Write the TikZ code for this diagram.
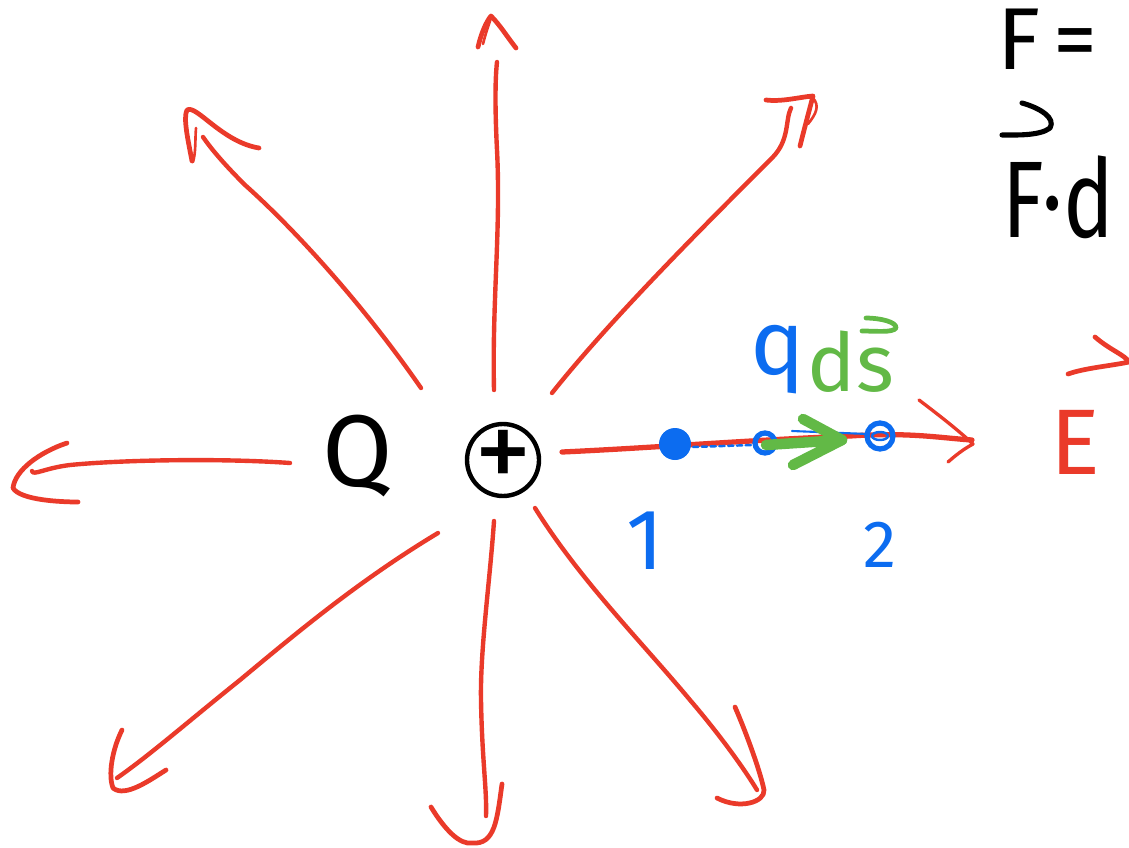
\documentclass[tikz,border=0pt]{standalone}
\usepackage{fontspec}
\usepackage{graphicx}
\setmainfont{Fira Sans}
\definecolor{penred}{RGB}{234,58,42}
\definecolor{penblue}{RGB}{12,108,240}
\definecolor{pengreen}{RGB}{98,185,70}
\begin{document}
\begin{tikzpicture}[x=0.02cm,y=-0.02cm,line cap=round,line join=round,
  field/.style={penred,line width=2.5pt},
  fieldhead/.style={penred,line width=2.7pt},
  hand/.style={inner sep=0pt,outer sep=0pt},
  vechook/.style={line width=2.7pt},
]
\useasboundingbox (0,0) rectangle (1129,848);
\clip (0,0) rectangle (1129,848);

% ---------- charge ----------
\node[hand,font=\fontsize{58}{60}\selectfont] (Q) at (358,456) {Q};
\node[circle,draw,line width=2.5pt,minimum size=1.44cm,inner sep=0pt] (plus) at (503,460) {};
\node[hand,font=\fontsize{66}{66}\selectfont] (plussign) at (plus.center) {+};

% ---------- field line end points ----------
\coordinate (s1) at (494,390);  \coordinate (e1) at (497,62);
\coordinate (s2) at (421,388);  \coordinate (e2) at (203,137);
\coordinate (s3) at (552,393);  \coordinate (e3) at (791,108);
\coordinate (s4) at (290,463);  \coordinate (e4) at (32,471);
\coordinate (s5) at (562,452);  \coordinate (e5) at (972,440);
\coordinate (s6) at (438,533);  \coordinate (e6) at (117,778);
\coordinate (s7) at (494,521);  \coordinate (e7) at (486,816);
\coordinate (s8) at (535,508);  \coordinate (e8) at (757,790);

% up
\draw[field] (s1) .. controls (492,300) and (501,230) .. (497,150) .. controls (495,110) and (495,80) .. (e1);
\draw[fieldhead] (478,47) .. controls (481,34) and (486,22) .. (491,16) .. controls (500,25) and (508,38) .. (516,48);
\draw[penred,line width=1.5pt] (483,44) .. controls (486,32) and (489,24) .. (491,18);
% upper left
\draw[field] (s2) .. controls (360,300) and (290,225) .. (245,185) .. controls (225,165) and (212,150) .. (e2);
\draw[fieldhead] (192,161) .. controls (188,140) and (183,118) .. (187,110) .. controls (196,104) and (222,142) .. (259,148);
\draw[penred,line width=1.5pt] (196,128) .. controls (195,140) and (196,152) .. (193,162);
% upper right
\draw[field] (s3) .. controls (610,320) and (700,230) .. (772,158) .. controls (790,140) and (785,120) .. (e3);
\draw[fieldhead] (766,100) .. controls (782,102) and (800,97) .. (813,96) .. controls (808,115) and (804,130) .. (800,146);
\draw[penred,line width=1.5pt] (813,98) .. controls (820,106) and (816,114) .. (808,124);
% left
\draw[field] (s4) .. controls (220,458) and (120,460) .. (70,465) .. controls (45,468) and (33,476) .. (e4);
\draw[fieldhead] (67,443) .. controls (40,452) and (15,470) .. (13,488) .. controls (20,500) and (60,502) .. (78,502);
% right (through 1 and 2)
\draw[field,line width=3pt] (s5) .. controls (650,448) and (750,440) .. (850,436) .. controls (910,432) and (940,438) .. (e5);
\draw[fieldhead,line width=1.9pt] (919,400) .. controls (940,416) and (958,430) .. (973,444) .. controls (962,450) and (955,456) .. (948,462);
% lower left
\draw[field] (s6) .. controls (360,580) and (300,630) .. (240,680) .. controls (190,720) and (150,755) .. (e6);
\draw[fieldhead] (122,730) .. controls (112,750) and (108,775) .. (113,788) .. controls (125,798) and (150,780) .. (166,770);
% down
\draw[field] (s7) .. controls (490,580) and (480,650) .. (481,700) .. controls (482,760) and (487,790) .. (e7);
\draw[fieldhead] (431,807) .. controls (445,830) and (460,845) .. (472,843) .. controls (495,845) and (497,820) .. (502,784);
% lower right
\draw[field] (s8) .. controls (580,580) and (640,640) .. (690,700) .. controls (720,735) and (745,770) .. (e8);
\draw[fieldhead] (735,707) .. controls (745,730) and (760,770) .. (764,790) .. controls (765,802) and (740,810) .. (717,798);

% ---------- points on the line ----------
\fill[penblue] (675,444) circle[radius=16];
\draw[penblue,line width=1.4pt,dash pattern=on 3pt off 2pt] (693,447) -- (753,445);
\draw[penblue,line width=3pt] (765,443) circle[radius=10];
\draw[penblue,line width=1.2pt] (792,431) -- (868,434);
\draw[penblue,line width=3pt] (880,436) circle[radius=13];
\draw[penblue,line width=1.4pt] (880,436) ellipse[x radius=8,y radius=4];
\coordinate (g1) at (766,445);
\coordinate (g2) at (842,440);
\draw[pengreen,line width=6pt] (g1) -- (g2);
\draw[pengreen,line width=6pt] (803,419) -- (g2) -- (793,465);

% ---------- labels ----------
\node[hand,text=penblue,font=\fontsize{52}{54}\selectfont] (q) at (778,360) {q};
\node[hand,text=pengreen,font=\fontsize{46}{48}\selectfont] (ds) at (851,362) {ds};
\draw[pengreen,vechook] (866,318) .. controls (880,318) and (897,322) .. (896,328) .. controls (893,333) and (875,331) .. (862,331);
\node[hand,text=penblue,font=\fontsize{49}{50}\selectfont] (n1) at (645,541) {1};
\node[hand,text=penblue,font=\fontsize{38}{40}\selectfont] (n2) at (880,545) {2};
\node[hand,text=penred,font=\fontsize{53}{55}\selectfont] (E) at (1075,442) {E};
\draw[penred,vechook] (1095,337) .. controls (1110,350) and (1125,355) .. (1129,362) .. controls (1110,366) and (1085,368) .. (1068,374);

% ---------- top right ----------
\node[hand,anchor=base west,font=\fontsize{50}{52}\selectfont] (Feq) at (997,70) {F\kern0.15em=};
\draw[black,vechook,line width=2.9pt] (1022,103) .. controls (1040,108) and (1056,118) .. (1050,128) .. controls (1040,136) and (1015,135) .. (1002,135);
\node[hand,anchor=base west,font=\fontsize{62}{64}\selectfont] (Fd) at (1002,237) {\scalebox{0.78}[1]{F·d}};
\end{tikzpicture}
\end{document}
